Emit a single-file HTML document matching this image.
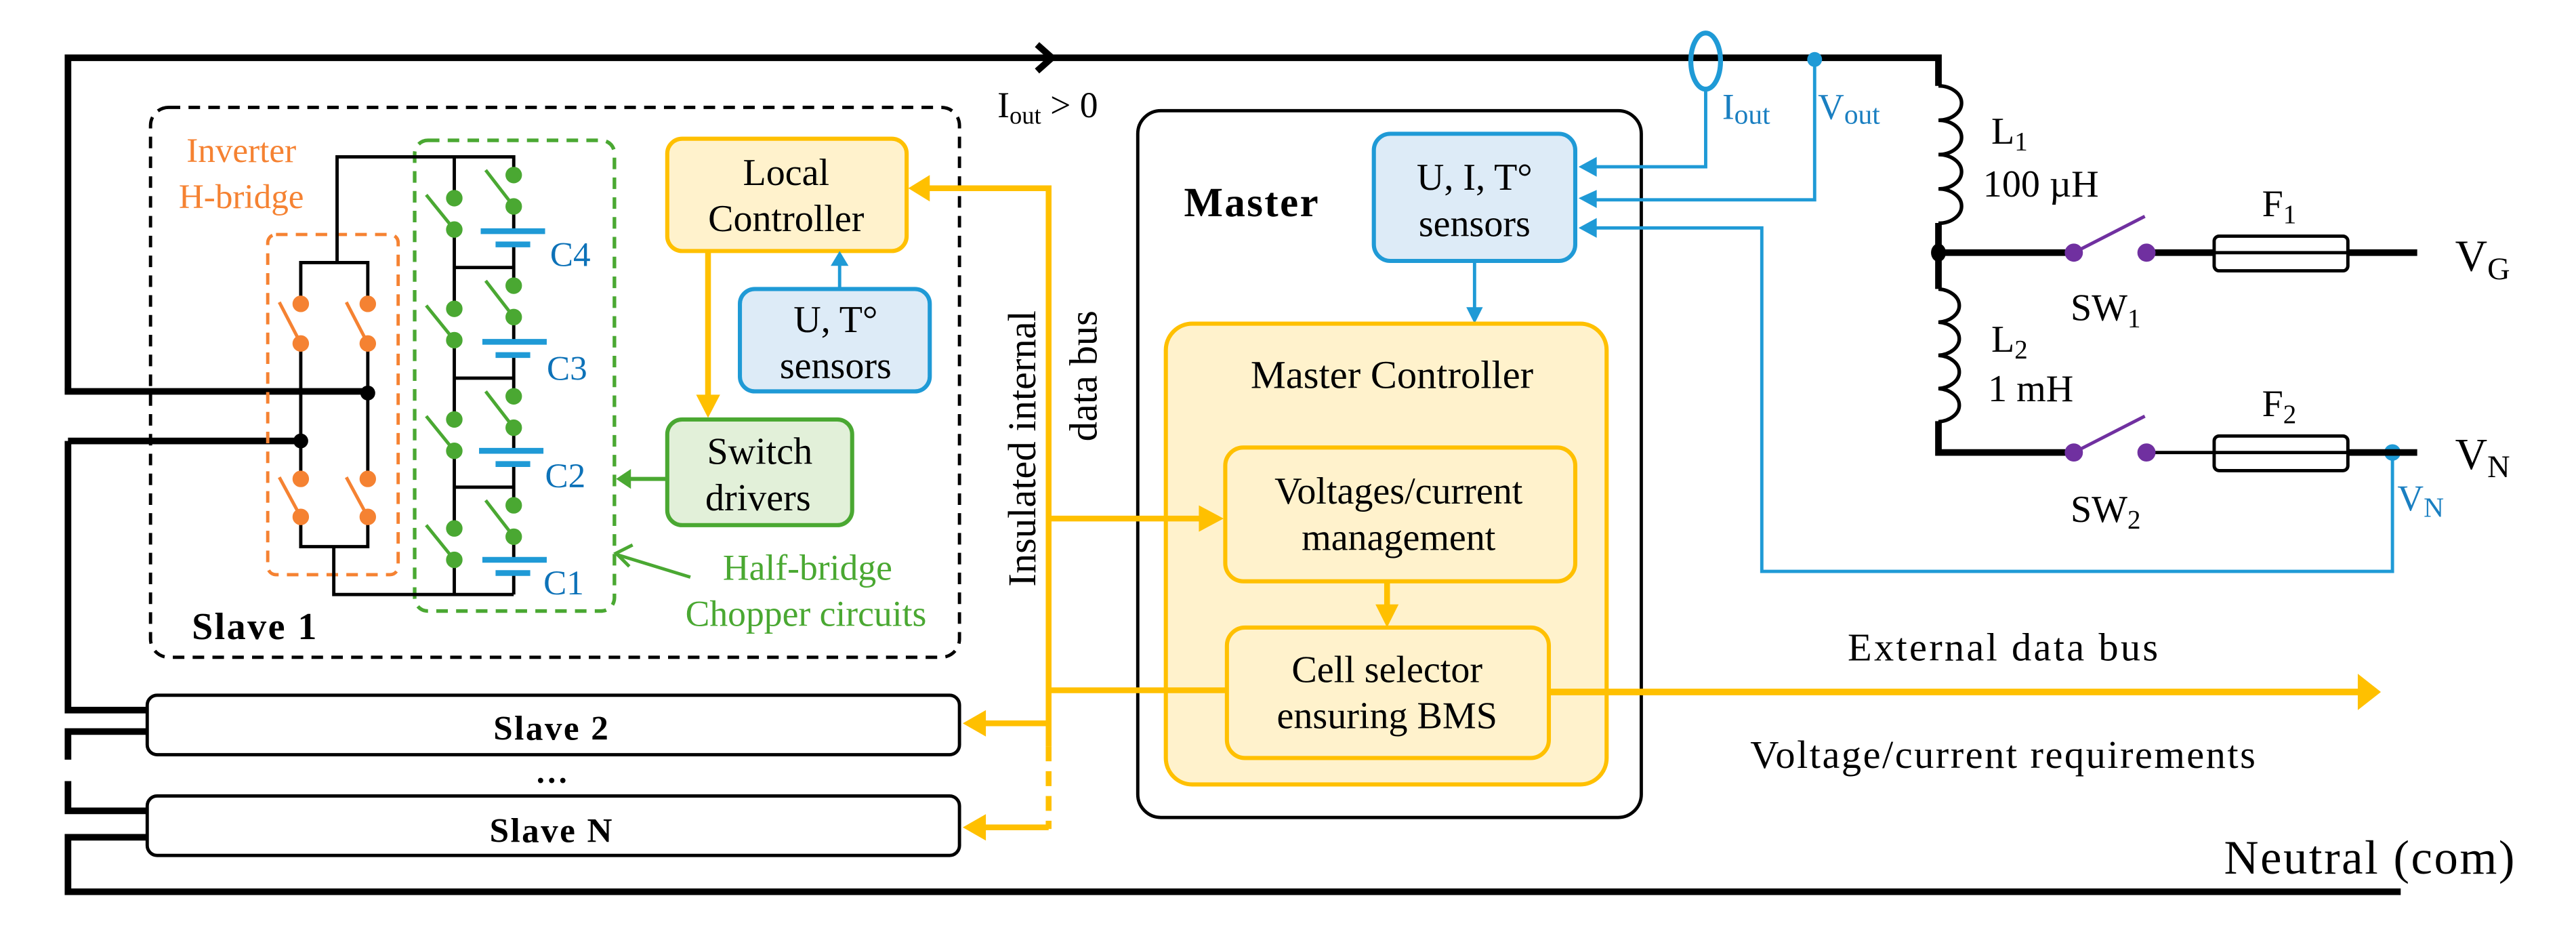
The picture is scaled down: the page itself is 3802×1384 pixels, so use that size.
<!DOCTYPE html>
<html><head><meta charset="utf-8"><style>
html,body{margin:0;padding:0;background:#fff;}
svg{display:block;}
svg text{font-family:"Liberation Serif","Times New Roman",Times,serif;}
</style></head><body>
<svg width="3802" height="1384" viewBox="0 0 1560 568" xmlns="http://www.w3.org/2000/svg" font-family="Liberation Serif, Times New Roman, serif">
<rect width="1560" height="568" fill="#fff"/>
<!-- main wires -->
<g stroke="#000" stroke-width="4" fill="none">
<polyline points="41,237 41,35 1174,35 1174,52"/>
<line x1="39" y1="237" x2="222" y2="237"/>
<polyline points="41,267 182,267"/>
<polyline points="41,267 41,430 89,430"/>
<polyline points="89,443 41,443 41,460"/>
<polyline points="41,473 41,491 89,491"/>
<polyline points="89,507 41,507 41,540 1454,540"/>
<polyline points="628,27 637,35 628,43" stroke-width="4"/>
</g>
<text x="604" y="71" font-size="22">I<tspan font-size="15" dy="4">out</tspan><tspan dy="-4"> &gt; 0</tspan></text>

<!-- Slave 1 -->
<rect x="91" y="65" width="490" height="333" rx="11" fill="none" stroke="#000" stroke-width="2" stroke-dasharray="7,5"/>
<text x="116" y="387" font-size="23" font-weight="bold" letter-spacing="1">Slave 1</text>
<rect x="162" y="142" width="79" height="206" rx="5" fill="none" stroke="#f58232" stroke-width="2" stroke-dasharray="7,5"/>
<rect x="251" y="85" width="121" height="285" rx="8" fill="none" stroke="#4aa832" stroke-width="2.2" stroke-dasharray="7,5"/>
<text x="146" y="98" font-size="21" fill="#f58232" text-anchor="middle">Inverter</text>
<text x="146" y="126" font-size="21" fill="#f58232" text-anchor="middle">H-bridge</text>

<!-- H-bridge -->
<g stroke="#000" stroke-width="2" fill="none">
<polyline points="204,159 204,95 311,95 311,106"/>
<polyline points="182,184 182,159 222.6,159 222.6,184"/>
<line x1="182" y1="208" x2="182" y2="290"/><line x1="222.6" y1="208" x2="222.6" y2="290"/>
<polyline points="182,313 182,331 222.6,331 222.6,313"/>
<polyline points="202,331 202,360 311,360"/>
</g>
<g fill="#f58232" stroke="#f58232" stroke-width="2">
<circle cx="182" cy="184" r="4"/><circle cx="182" cy="208" r="4"/>
<circle cx="222.6" cy="184" r="4"/><circle cx="222.6" cy="208" r="4"/>
<circle cx="182" cy="290" r="4"/><circle cx="182" cy="313" r="4"/>
<circle cx="222.6" cy="290" r="4"/><circle cx="222.6" cy="313" r="4"/>
<line x1="182" y1="208" x2="169" y2="183"/><line x1="222.6" y1="208" x2="209.6" y2="183"/>
<line x1="182" y1="313" x2="169" y2="289"/><line x1="222.6" y1="313" x2="209.6" y2="289"/>
</g>
<circle cx="222.6" cy="238" r="4.5" fill="#000"/>
<circle cx="182" cy="267" r="4.5" fill="#000"/>

<!-- Chopper cells -->
<g stroke="#000" stroke-width="2" fill="none">
<line x1="275" y1="95" x2="275" y2="120"/>
<line x1="275" y1="139" x2="275" y2="187"/>
<line x1="275" y1="206" x2="275" y2="254"/>
<line x1="275" y1="273" x2="275" y2="320"/>
<line x1="275" y1="339" x2="275" y2="360"/>
<line x1="275" y1="162" x2="311" y2="162"/><line x1="275" y1="229" x2="311" y2="229"/><line x1="275" y1="295" x2="311" y2="295"/>
<line x1="311" y1="125" x2="311" y2="139"/><line x1="311" y1="147" x2="311" y2="173"/>
<line x1="311" y1="192" x2="311" y2="206"/><line x1="311" y1="214" x2="311" y2="240"/>
<line x1="311" y1="259" x2="311" y2="273"/><line x1="311" y1="281" x2="311" y2="306"/>
<line x1="311" y1="325" x2="311" y2="339"/><line x1="311" y1="347" x2="311" y2="360"/>
</g>
<g fill="#4aa832" stroke="#4aa832" stroke-width="2">
<circle cx="311" cy="106" r="4"/><circle cx="311" cy="125" r="4"/><line x1="311" y1="125" x2="294" y2="103"/>
<circle cx="275" cy="120" r="4"/><circle cx="275" cy="139" r="4"/><line x1="275" y1="139" x2="258" y2="118"/>
<circle cx="311" cy="173" r="4"/><circle cx="311" cy="192" r="4"/><line x1="311" y1="192" x2="294" y2="170"/>
<circle cx="275" cy="187" r="4"/><circle cx="275" cy="206" r="4"/><line x1="275" y1="206" x2="258" y2="185"/>
<circle cx="311" cy="240" r="4"/><circle cx="311" cy="259" r="4"/><line x1="311" y1="259" x2="294" y2="237"/>
<circle cx="275" cy="254" r="4"/><circle cx="275" cy="273" r="4"/><line x1="275" y1="273" x2="258" y2="252"/>
<circle cx="311" cy="306" r="4"/><circle cx="311" cy="325" r="4"/><line x1="311" y1="325" x2="294" y2="303"/>
<circle cx="275" cy="320" r="4"/><circle cx="275" cy="339" r="4"/><line x1="275" y1="339" x2="258" y2="318"/>
</g>
<g stroke="#1f9ad6" stroke-width="3.5">
<line x1="291" y1="140" x2="330" y2="140"/><line x1="300" y1="148" x2="321" y2="148"/>
<line x1="292" y1="207" x2="331" y2="207"/><line x1="300" y1="215" x2="321" y2="215"/>
<line x1="290" y1="273" x2="329" y2="273"/><line x1="300" y1="281" x2="321" y2="281"/>
<line x1="292" y1="339" x2="331" y2="339"/><line x1="300" y1="347" x2="321" y2="347"/>
</g>
<g fill="#0d72b8" font-size="21">
<text x="333" y="161">C4</text><text x="331" y="230">C3</text><text x="330" y="295">C2</text><text x="329" y="360">C1</text>
</g>

<!-- Local controller etc -->
<rect x="404" y="84" width="145" height="68" rx="9" fill="#fff2cc" stroke="#ffc000" stroke-width="2.5"/>
<text x="476" y="112" font-size="23" text-anchor="middle">Local</text>
<text x="476" y="140" font-size="23" text-anchor="middle">Controller</text>
<rect x="448" y="175" width="115" height="62" rx="9" fill="#ddebf7" stroke="#1f9ad6" stroke-width="2.5"/>
<text x="506" y="201" font-size="23" text-anchor="middle">U, T°</text>
<text x="506" y="229" font-size="23" text-anchor="middle">sensors</text>
<line x1="508.4" y1="174" x2="508.4" y2="160" stroke="#1f9ad6" stroke-width="2"/>
<polygon points="503,161 508.4,152 513.8,161" fill="#1f9ad6"/>
<line x1="428.7" y1="152" x2="428.7" y2="240" stroke="#ffc000" stroke-width="3.5"/>
<polygon points="421.5,239 428.7,253 436,239" fill="#ffc000"/>
<rect x="404" y="254" width="112" height="64" rx="9" fill="#e2f0d9" stroke="#4aa832" stroke-width="2.5"/>
<text x="460" y="281" font-size="23" text-anchor="middle">Switch</text>
<text x="459" y="309" font-size="23" text-anchor="middle">drivers</text>
<line x1="404" y1="290" x2="381" y2="290" stroke="#4aa832" stroke-width="2.5"/>
<polygon points="382,284 373,290 382,296" fill="#4aa832"/>
<polyline points="383,330 373,335 381,343" fill="none" stroke="#4aa832" stroke-width="2"/>
<line x1="418" y1="349.5" x2="374" y2="336" stroke="#4aa832" stroke-width="2"/>
<text x="489" y="351" font-size="22" fill="#4aa832" text-anchor="middle">Half-bridge</text>
<text x="488" y="379" font-size="22" fill="#4aa832" text-anchor="middle">Chopper circuits</text>

<!-- Slave 2 / N -->
<rect x="89" y="421" width="492" height="36" rx="6" fill="#fff" stroke="#000" stroke-width="2"/>
<text x="334" y="448" font-size="21" font-weight="bold" text-anchor="middle" letter-spacing="1">Slave 2</text>
<text x="334" y="474" font-size="20" font-weight="bold" text-anchor="middle">…</text>
<rect x="89" y="482" width="492" height="36" rx="6" fill="#fff" stroke="#000" stroke-width="2"/>
<text x="334" y="510" font-size="21" font-weight="bold" text-anchor="middle" letter-spacing="1">Slave N</text>

<!-- Master -->
<rect x="689" y="67" width="305" height="428" rx="14" fill="#fff" stroke="#000" stroke-width="2"/>
<text x="717" y="131" font-size="25" font-weight="bold" letter-spacing="1">Master</text>
<rect x="832" y="81" width="122" height="77" rx="10" fill="#ddebf7" stroke="#1f9ad6" stroke-width="2.5"/>
<text x="893" y="115" font-size="23" text-anchor="middle">U, I, T°</text>
<text x="893" y="143" font-size="23" text-anchor="middle">sensors</text>
<line x1="893" y1="158" x2="893" y2="188" stroke="#1f9ad6" stroke-width="2"/>
<polygon points="888,186 893,196 898,186" fill="#1f9ad6"/>
<rect x="706" y="196" width="267" height="279" rx="16" fill="#fff2cc" stroke="#ffc000" stroke-width="2.5"/>
<text x="843" y="235" font-size="24" text-anchor="middle">Master Controller</text>

<!-- Internal bus (drawn over master) -->
<g stroke="#ffc000" stroke-width="3.5" fill="none">
<polyline points="561,114 635,114 635,452"/>
<line x1="635" y1="452" x2="635" y2="502" stroke-dasharray="9,6"/>
<line x1="635" y1="314" x2="728" y2="314"/>
<line x1="635" y1="418" x2="743" y2="418"/>
<line x1="635" y1="438" x2="596" y2="438"/>
<line x1="635" y1="501" x2="596" y2="501"/>
</g>
<polygon points="563,106 550,114 563,122" fill="#ffc000"/>
<polygon points="726,306 741,314 726,322" fill="#ffc000"/>
<polygon points="597,430 583,438 597,446" fill="#ffc000"/>
<polygon points="597,493 583,501 597,509" fill="#ffc000"/>
<text transform="translate(627,188) rotate(-90)" font-size="24" text-anchor="end">Insulated internal</text>
<text transform="translate(664,188) rotate(-90)" font-size="24" text-anchor="end">data bus</text>

<rect x="742" y="271" width="212" height="81" rx="11" fill="#fff2cc" stroke="#ffc000" stroke-width="2.5"/>
<text x="847" y="305" font-size="23" text-anchor="middle">Voltages/current</text>
<text x="847" y="333" font-size="23" text-anchor="middle">management</text>
<line x1="840" y1="352" x2="840" y2="368" stroke="#ffc000" stroke-width="3.5"/>
<polygon points="833,366 840,380 847,366" fill="#ffc000"/>
<rect x="743" y="380" width="195" height="79" rx="11" fill="#fff2cc" stroke="#ffc000" stroke-width="2.5"/>
<text x="840" y="413" font-size="23" text-anchor="middle">Cell selector</text>
<text x="840" y="441" font-size="23" text-anchor="middle">ensuring BMS</text>

<!-- External bus -->
<line x1="938" y1="419" x2="1430" y2="419" stroke="#ffc000" stroke-width="4"/>
<polygon points="1428,408 1442,419 1428,430" fill="#ffc000"/>
<text x="1119" y="400" font-size="24" textLength="188">External  data bus</text>
<text x="1060" y="465" font-size="24" textLength="306">Voltage/current requirements</text>
<text x="1347" y="529" font-size="29" textLength="176">Neutral (com)</text>

<!-- sensors wiring -->
<g stroke="#1f9ad6" stroke-width="2" fill="none">
<ellipse cx="1033" cy="37" rx="9" ry="17" stroke-width="3"/>
<polyline points="1033,54 1033,101 966,101"/>
<polyline points="1099,36 1099,121 966,121"/>
<polyline points="966,138 1067,138 1067,346 1449,346 1449,274"/>
</g>
<polygon points="967,95 956,101 967,107" fill="#1f9ad6"/>
<polygon points="967,115 956,120 967,126" fill="#1f9ad6"/>
<polygon points="967,132 956,138 967,144" fill="#1f9ad6"/>
<circle cx="1099" cy="36" r="4.5" fill="#1f9ad6"/>
<circle cx="1449" cy="274" r="5" fill="#1f9ad6"/>
<g fill="#1a7fc1" font-size="22">
<text x="1043" y="72">I<tspan font-size="17" dy="3">out</tspan></text>
<text x="1101" y="72">V<tspan font-size="17" dy="3">out</tspan></text>
<text x="1452" y="309">V<tspan font-size="17" dy="4">N</tspan></text>
</g>

<!-- Inductors & right side -->
<g stroke="#000" fill="none">
<path d="M1174,52 a14,10.4 0 0 1 0,20.8 a14,10.4 0 0 1 0,20.8 a14,10.4 0 0 1 0,20.8 a14,10.4 0 0 1 0,20.8" stroke-width="2.2"/>
<line x1="1174" y1="135" x2="1174" y2="175" stroke-width="4"/>
<path d="M1174,175 a14,10.1 0 0 1 0,20.1 a14,10.1 0 0 1 0,20.1 a14,10.1 0 0 1 0,20.1 a14,10.1 0 0 1 0,20.1" stroke-width="2.2"/>
<polyline points="1174,255 1174,274 1256,274" stroke-width="4"/>
<line x1="1174" y1="153" x2="1256" y2="153" stroke-width="4"/>
<line x1="1300" y1="153" x2="1341" y2="153" stroke-width="4"/>
<line x1="1422" y1="153" x2="1464" y2="153" stroke-width="4"/>
<line x1="1300" y1="274" x2="1341" y2="274" stroke-width="2"/>
<line x1="1422" y1="274" x2="1464" y2="274" stroke-width="4"/>
<rect x="1341" y="143" width="81" height="21" rx="3" stroke-width="2"/>
<line x1="1341" y1="153" x2="1422" y2="153" stroke-width="2"/>
<rect x="1341" y="264" width="81" height="21" rx="3" stroke-width="2"/>
<line x1="1341" y1="274" x2="1422" y2="274" stroke-width="2"/>
</g>
<ellipse cx="1174" cy="153" rx="4.5" ry="5.5" fill="#000"/>
<g fill="#7030a0" stroke="#7030a0" stroke-width="2">
<circle cx="1256" cy="153" r="4.5"/><circle cx="1300" cy="153" r="4.5"/><line x1="1256" y1="153" x2="1299" y2="131"/>
<circle cx="1256" cy="274" r="4.5"/><circle cx="1300" cy="274" r="4.5"/><line x1="1256" y1="274" x2="1299" y2="252"/>
</g>
<g font-size="23">
<text x="1206" y="87">L<tspan font-size="16" dy="4">1</tspan></text>
<text x="1201" y="119">100 µH</text>
<text x="1206" y="213">L<tspan font-size="16" dy="4">2</tspan></text>
<text x="1204" y="243">1 mH</text>
<text x="1370" y="131">F<tspan font-size="16" dy="4">1</tspan></text>
<text x="1370" y="252">F<tspan font-size="16" dy="4">2</tspan></text>
<text x="1254" y="194">SW<tspan font-size="16" dy="4">1</tspan></text>
<text x="1254" y="316">SW<tspan font-size="16" dy="4">2</tspan></text>
<text x="1487" y="164" font-size="27">V<tspan font-size="19" dy="5">G</tspan></text>
<text x="1487" y="284" font-size="27">V<tspan font-size="19" dy="5">N</tspan></text>
</g>
</svg>
</body></html>
